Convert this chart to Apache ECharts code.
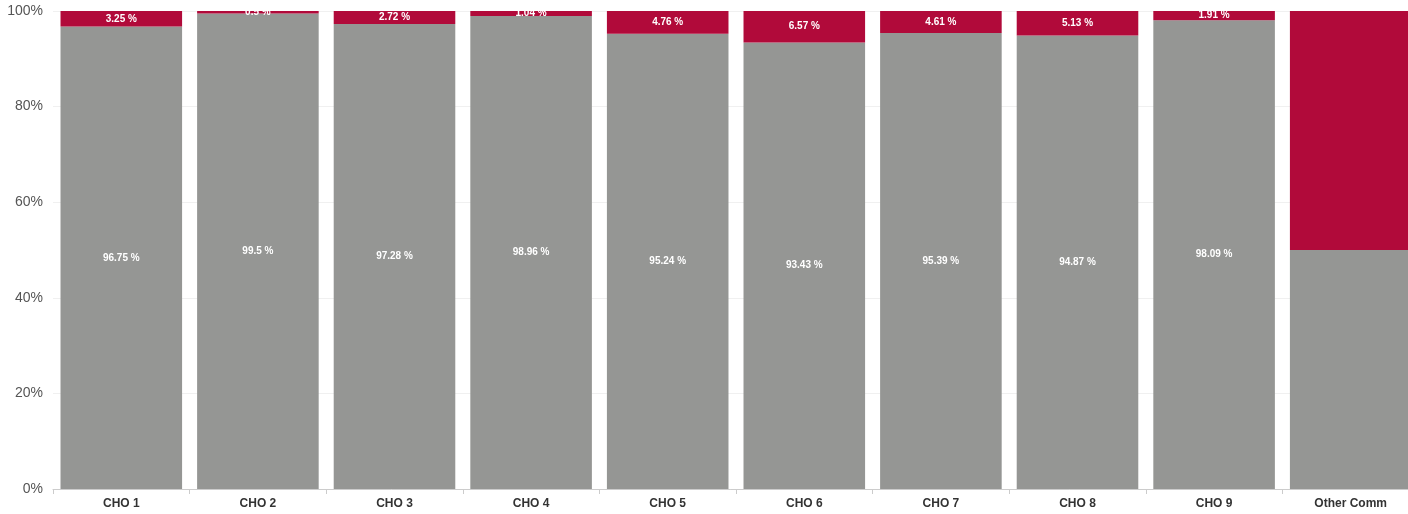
<!DOCTYPE html>
<html><head><meta charset="utf-8">
<script src="https://cdn.jsdelivr.net/npm/echarts@6/dist/echarts.min.js"></script>
<style>html,body{margin:0;padding:0;background:#fff;overflow:hidden}#c{width:1408px;height:514px}</style>
</head><body><div id="c"></div>
<script>
const categories = ['CHO 1','CHO 2','CHO 3','CHO 4','CHO 5','CHO 6','CHO 7','CHO 8','CHO 9','Other Comm'];
const greyValues = [96.75, 99.5, 97.28, 98.96, 95.24, 93.43, 95.39, 94.87, 98.09, 50];
const redValues = [3.25, 0.5, 2.72, 1.04, 4.76, 6.57, 4.61, 5.13, 1.91, 50];
const showLabel = [true, true, true, true, true, true, true, true, true, false];

const chart = echarts.init(document.getElementById('c'));
const lbl = {
  show: true, position: 'inside', color: '#fff', fontWeight: 'bold', fontSize: 10,
  fontFamily: 'Liberation Sans, Arial, sans-serif'
};
function mk(vals) {
  return vals.map((v, i) => ({ value: v, label: { show: showLabel[i] } }));
}
chart.setOption({
  animation: false,
  grid: { left: 53, right: -11, top: 11, bottom: 25, containLabel: false, outerBoundsMode: 'none' },
  xAxis: {
    type: 'category', data: categories,
    axisLine: { lineStyle: { color: '#ccc' } },
    axisTick: { show: true, lineStyle: { color: '#ccc' } },
    axisLabel: { color: '#333', fontWeight: 'bold', fontSize: 12, margin: 9, fontFamily: 'Liberation Sans, Arial, sans-serif' }
  },
  yAxis: {
    type: 'value', min: 0, max: 100, interval: 20,
    axisLabel: { formatter: '{value}%', color: '#555', fontSize: 14, margin: 10, fontFamily: 'Liberation Sans, Arial, sans-serif' },
    splitLine: { lineStyle: { color: '#f0f0f0' } },
    axisLine: { show: false }, axisTick: { show: false }
  },
  series: [
    { type: 'bar', stack: 's', data: mk(greyValues), barCategoryGap: '11%', itemStyle: { color: '#959694' },
      label: Object.assign({}, lbl, { formatter: p => p.value + ' %' }) },
    { type: 'bar', stack: 's', data: mk(redValues), itemStyle: { color: '#b10a3a' },
      label: Object.assign({}, lbl, { formatter: p => p.value + ' %' }) }
  ]
});
</script></body></html>
